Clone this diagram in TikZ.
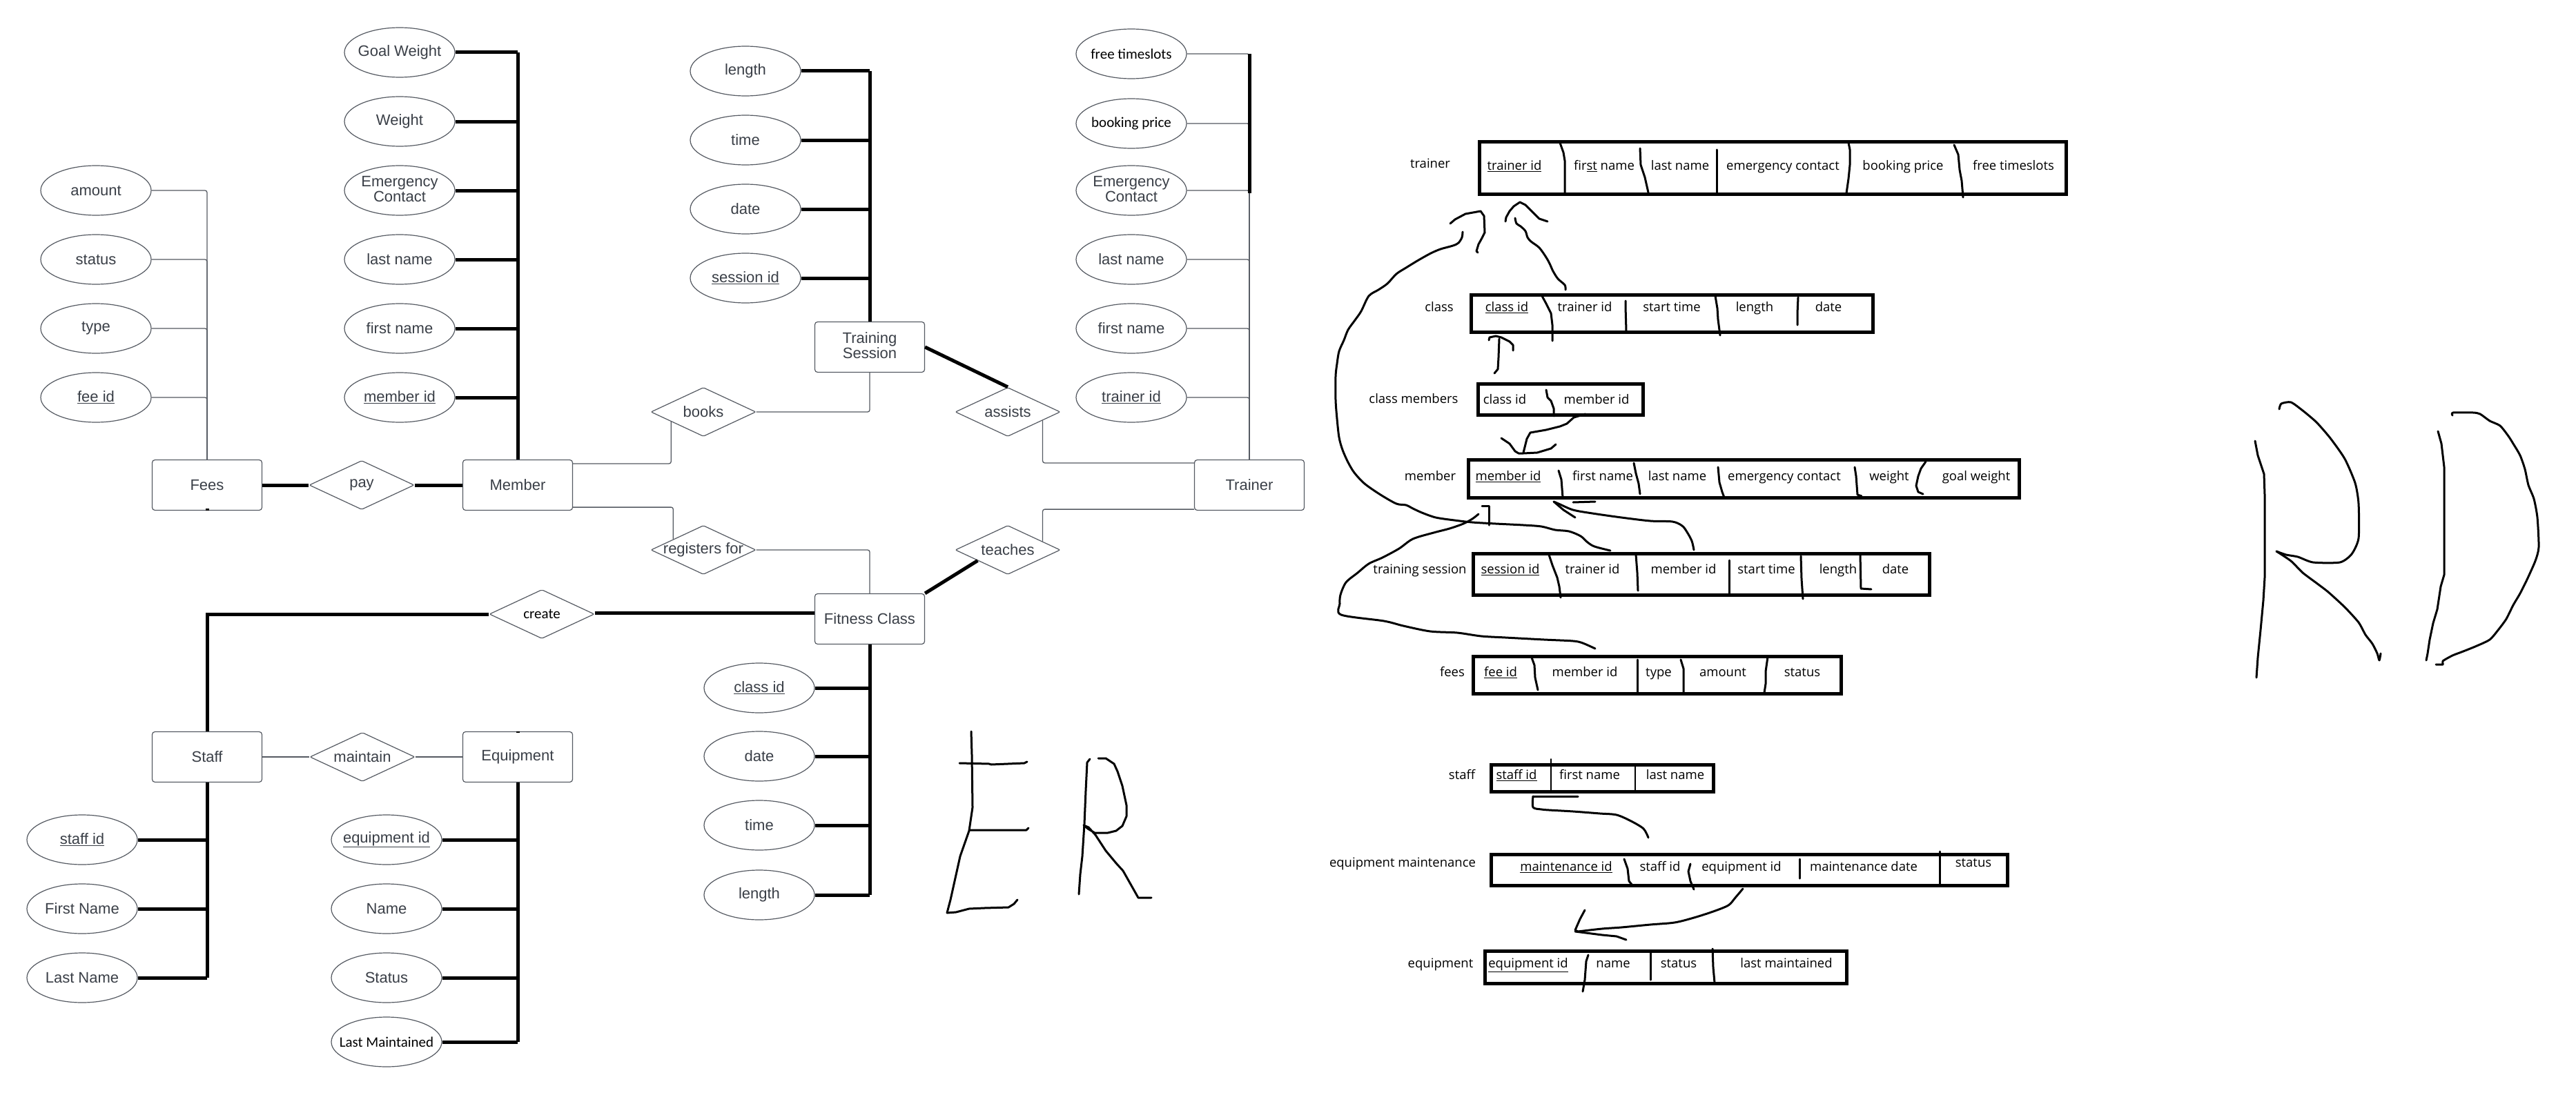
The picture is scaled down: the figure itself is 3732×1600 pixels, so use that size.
\documentclass[tikz,border=0pt]{standalone}
\usepackage{fontspec}
\setmainfont{Liberation Sans}
\newfontfamily\rdfam{Open Sans}
\newfontfamily\calfam{Carlito}
\usetikzlibrary{shapes.geometric,calc}
\definecolor{ergray}{RGB}{85,90,98}
\definecolor{ertext}{RGB}{58,63,71}
\newcommand\zb[1]{\makebox[0pt][c]{#1}}
\newcommand\twol[2]{\begin{tabular}{@{}c@{}}#1\\[-3pt]#2\end{tabular}}
\begin{document}
\begin{tikzpicture}[x=1pt,y=-1pt,
 erline/.style={draw=ergray,line width=1.3pt,rounded corners=3pt},
 erthick/.style={draw=black,line width=5pt},
 attr/.style={ellipse,draw=ergray,line width=1.2pt,minimum width=160pt,minimum height=72pt,inner sep=0pt,font=\fontsize{22}{25}\selectfont,text=ertext},
 ent/.style={rectangle,rounded corners=4pt,draw=ergray,line width=1.2pt,minimum width=159pt,minimum height=73pt,inner sep=0pt,font=\fontsize{22}{25}\selectfont,text=ertext},
 rel/.style={diamond,aspect=2.1,rounded corners=2pt,draw=ergray,line width=1.2pt,minimum width=152pt,minimum height=71pt,inner sep=0pt,font=\fontsize{22}{25}\selectfont,text=ertext},
 cal/.style={font=\calfam\fontsize{21}{25}\selectfont,text=black},
 tbl/.style={rectangle,draw=black,line width=5pt,inner sep=0pt},
 cell/.style={font=\rdfam\fontsize{18.5}{22}\selectfont,anchor=mid,inner sep=0pt,text=black},
 hand/.style={draw=black,line width=3pt,line cap=round,line join=round},
 sepl/.style={draw=black,line width=3pt,line cap=round,line join=round},
]
\fill[white] (0,0) rectangle (3732,1600);
\useasboundingbox (0,0) rectangle (3732,1600);

% ---------------- ER entities ----------------
\node[ent] (fees) at (300,703) {Fees};
\node[ent] (member) at (750,703) {Member};
\node[ent] (ts) at (1260,503) {\twol{Training}{Session}};
\node[ent] (trainer) at (1810,703) {Trainer};
\node[ent] (fc) at (1260,897) {Fitness Class};
\node[ent] (staff) at (300,1097) {Staff};
\node[ent] (equip) at (750,1097) {Equipment};

% relationships
\node[rel] (pay) at (524,703) {\zb{pay}};
\node[rel] (books) at (1019,597) {\zb{books}};
\node[rel] (reg) at (1019,797) {\zb{registers for}};
\node[rel] (assists) at (1460,597) {\zb{assists}};
\node[rel] (teaches) at (1460,797) {\zb{teaches}};
\node[rel,cal] (create) at (785,890) {\zb{create}};
\node[rel] (maintain) at (525,1097) {\zb{maintain}};

% member attributes
\node[attr] (gw) at (579,76) {\zb{Goal Weight}};
\node[attr] (wt) at (579,176) {\zb{Weight}};
\node[attr] (mec) at (579,276) {\zb{\twol{Emergency}{Contact}}};
\node[attr] (mln) at (579,376) {\zb{last name}};
\node[attr] (mfn) at (579,476) {\zb{first name}};
\node[attr] (mid) at (579,576) {\zb{\underline{member id}}};
% fees attributes
\node[attr] (famt) at (139,276) {\zb{amount}};
\node[attr] (fst) at (139,376) {\zb{status}};
\node[attr] (fty) at (139,476) {\zb{type}};
\node[attr] (fid) at (139,576) {\zb{\underline{fee id}}};
% training session attributes
\node[attr] (tlen) at (1080,103) {\zb{length}};
\node[attr] (ttime) at (1080,203) {\zb{time}};
\node[attr] (tdate) at (1080,303) {\zb{date}};
\node[attr] (tsid) at (1080,403) {\zb{\underline{session id}}};
% trainer attributes
\node[attr,cal] (tfree) at (1639,78) {\zb{free timeslots}};
\node[attr,cal] (tbook) at (1639,179) {\zb{booking price}};
\node[attr] (tec) at (1639,276) {\zb{\twol{Emergency}{Contact}}};
\node[attr] (tln) at (1639,376) {\zb{last name}};
\node[attr] (tfn) at (1639,476) {\zb{first name}};
\node[attr] (tid) at (1639,576) {\zb{\underline{trainer id}}};
% fitness class attributes
\node[attr] (cid) at (1100,997) {\zb{\underline{class id}}};
\node[attr] (cdate) at (1100,1096) {\zb{date}};
\node[attr] (ctime) at (1100,1196) {\zb{time}};
\node[attr] (clen) at (1100,1297) {\zb{length}};
% staff attributes
\node[attr] (sid) at (119,1217) {\zb{\underline{staff id}}};
\node[attr] (sfn) at (119,1317) {\zb{First Name}};
\node[attr] (sln) at (119,1417) {\zb{Last Name}};
% equipment attributes
\node[attr] (eid) at (560,1217) {\zb{\underline{equipment id}}};
\node[attr] (ename) at (560,1317) {\zb{Name}};
\node[attr] (est) at (560,1417) {\zb{Status}};
\node[attr,cal] (elm) at (560,1510) {\zb{Last Maintained}};

% ---------------- ER connectors ----------------
\draw[erthick] (member.north) -- (member.north |- gw.east);
\foreach \a in {gw,wt,mec,mln,mfn,mid} \draw[erthick] (\a.east) -- (\a.east -| member.north);
\foreach \a in {famt,fst,fty,fid} \draw[erline] (\a.east) -| (fees.north);
\draw[erthick] (ts.north) -- (ts.north |- tlen.east);
\foreach \a in {tlen,ttime,tdate,tsid} \draw[erthick] (\a.east) -- (\a.east -| ts.north);
\foreach \a in {tfree,tbook,tec,tln,tfn,tid} \draw[erline] (\a.east) -| (trainer.north);
\draw[erthick] (trainer.north |- tfree.east) -- ($(trainer.north |- tec.east)+(0,4)$);
\draw[erthick] (fc.south) -- (fc.south |- clen.east);
\foreach \a in {cid,cdate,ctime,clen} \draw[erthick] (\a.east) -- (\a.east -| fc.south);
\draw[erthick] (staff.south) -- (staff.south |- sln.east);
\foreach \a in {sid,sfn,sln} \draw[erthick] (\a.east) -- (\a.east -| staff.south);
\draw[erthick] (equip.south) -- (equip.south |- elm.east);
\foreach \a in {eid,ename,est,elm} \draw[erthick] (\a.east) -- (\a.east -| equip.south);

\draw[erthick] (fees.east) -- (pay.west);
\draw[erthick] (pay.east) -- (member.west);
\draw[erthick] (fees.south) -- ++(0,-3);
\draw[erthick] (equip.north) -- ++(0,2);
\draw[erline] ($(member.north east)+(0,6)$) -| ($(books.west)!0.39!(books.south)$);
\draw[erline] (books.east) -| (ts.south);
\draw[erline] ($(member.south east)+(0,-5)$) -| ($(reg.west)!0.43!(reg.north)$);
\draw[erline] (reg.east) -| (fc.north);
\draw[erthick] (ts.east) -- (assists.north);
\draw[erline] ($(assists.south)!0.66!(assists.east)$) |- ($(trainer.north west)+(0,5)$);
\draw[erline] ($(teaches.north)!0.66!(teaches.east)$) |- ($(trainer.south west)+(0,-2)$);
\draw[erthick] (fc.north east) -- ($(teaches.west)!0.43!(teaches.south)$);
\draw[erthick] ($(create.east)+(0,-2)$) -- ($(create.east -| fc.west)+(0,-2)$);
\draw[erthick] (create.west) -| (staff.north);
\draw[erline] (staff.east) -- (maintain.west);
\draw[erline] (maintain.east) -- (equip.west);

% hand-written ER
\draw[hand] (1407,1060) -- (1408,1094) -- (1409,1170) -- (1404,1204) -- (1391,1241) -- (1383,1277) -- (1377,1304) -- (1372,1323) -- (1385,1322) -- (1404,1317) -- (1426,1316) -- (1461,1315) -- (1469,1310) -- (1474,1304);
\draw[hand] (1390,1106) -- (1433,1107) -- (1436,1108) -- (1484,1106) -- (1488,1104);
\draw[hand] (1404,1203) -- (1487,1203) -- (1490,1200);
\draw[hand] (1563,1296) -- (1565,1267) -- (1568,1241) -- (1571,1194) -- (1573,1146) -- (1575,1105) -- (1579,1100);
\draw[hand] (1591,1099) -- (1602,1099) -- (1614,1107) -- (1619,1118) -- (1626,1139) -- (1632,1167) -- (1632,1183) -- (1626,1197) -- (1617,1204) -- (1605,1207) -- (1586,1207) -- (1576,1201) -- (1570,1196) -- (1577,1199) -- (1587,1210) -- (1602,1233) -- (1617,1251) -- (1627,1262) -- (1640,1285) -- (1649,1301) -- (1668,1301);

% hand-written RD
\draw[hand] (3267,639) -- (3271,660) -- (3280,687) -- (3281,717) -- (3281,837) -- (3279,870) -- (3275,913) -- (3271,953) -- (3269,982);
\draw[hand] plot[smooth,tension=0.4] coordinates {(3302,593) (3305,585) (3319,583) (3336,595) (3356,612) (3376,635) (3397,665) (3412,700) (3417,730) (3417,780) (3407,803) (3390,815) (3351,815) (3329,807) (3312,804) (3298,799)};
\draw[hand] plot[smooth,tension=0.4] coordinates {(3298,799) (3319,813) (3336,830) (3356,845) (3373,858) (3397,880) (3417,902) (3427,920) (3437,933) (3444,947) (3447,957) (3449,947)};
\draw[hand] (3532,625) -- (3537,643) -- (3541,677) -- (3541,833) -- (3536,850) -- (3531,883) -- (3525,903) -- (3520,927) -- (3517,947) -- (3515,957);
\draw[hand] plot[smooth,tension=0.4] coordinates {(3553,602) (3554,598) (3583,598) (3593,600) (3607,610) (3622,617) (3634,632) (3641,643) (3651,660) (3658,680) (3663,703) (3671,723) (3676,750) (3678,793) (3673,813) (3661,840) (3651,860) (3641,877) (3631,897) (3620,912) (3607,927) (3586,937) (3566,945) (3553,950) (3539,958) (3539,963) (3529,963)};

% ---------------- RD tables ----------------
\node[tbl,minimum width=850pt,minimum height=76pt] (Rtrainer) at (2568.5,243.5) {};
\node[tbl,minimum width=582pt,minimum height=54pt] (Rclass) at (2422.5,454.5) {};
\node[tbl,minimum width=239pt,minimum height=45pt] (Rcm) at (2261,579) {};
\node[tbl,minimum width=798pt,minimum height=55pt] (Rmember) at (2526.5,694) {};
\node[tbl,minimum width=661pt,minimum height=60pt] (Rts) at (2465,832.5) {};
\node[tbl,minimum width=533pt,minimum height=54pt] (Rfees) at (2401,978.5) {};
\node[tbl,minimum width=322pt,minimum height=39pt] (Rstaff) at (2321.5,1128) {};
\node[tbl,minimum width=748pt,minimum height=45pt] (Rem) at (2534.5,1261) {};
\node[tbl,minimum width=524pt,minimum height=47pt] (Requip) at (2413.5,1402) {};

% labels
\node[cell] (Ltrainer) at (2072,241) {trainer};
\node[cell] (Lclass) at (2085,449) {class};
\node[cell] (Lcm) at (2048,582) {class members};
\node[cell] (Lmember) at (2072,694) {member};
\node[cell] (Lts) at (2057,829) {training session};
\node[cell] (Lfees) at (2104,978) {fees};
\node[cell] (Lstaff) at (2118,1127) {staff};
\node[cell] (Lem) at (2032,1254) {equipment maintenance};
\node[cell] (Lequip) at (2087,1400) {equipment};

% cells
\foreach \x/\t [count=\i] in {2194/{\underline{trainer id}},2324/{fir\underline{st} name},2434/{last name},2583/{emergency contact},2757/{booking price},2917/{free timeslots}}
  \node[cell] (ctr\i) at (\x,244) {\t};
\foreach \x/\t [count=\i] in {2183/{\underline{class id}},2296/{trainer id},2422/{start time},2542/{length},2649/{date}}
  \node[cell] (ccl\i) at (\x,449) {\t};
\foreach \x/\t [count=\i] in {2180/{class id},2313/{member id}}
  \node[cell] (ccm\i) at (\x,583) {\t};
\foreach \x/\t [count=\i] in {2185/{\underline{member id}},2322/{first name},2430/{last name},2585/{emergency contact},2737/{weight},2863/{goal weight}}
  \node[cell] (cme\i) at (\x,694) {\t};
\foreach \x/\t [count=\i] in {2188/{\underline{session id}},2307/{trainer id},2439/{member id},2559/{start time},2663/{length},2746/{date}}
  \node[cell] (cts\i) at (\x,829) {\t};
\foreach \x/\t [count=\i] in {2174/{\underline{fee id}},2296/{member id},2403/{type},2496/{amount},2611/{status}}
  \node[cell] (cfe\i) at (\x,978) {\t};
\foreach \x/\t [count=\i] in {2197/{\underline{staff id}},2303/{first name},2427/{last name}}
  \node[cell] (cst\i) at (\x,1127) {\t};
\foreach \x/\t [count=\i] in {2269/{\underline{maintenance id}},2405/{staff id},2523/{equipment id},2700/{maintenance date}}
  \node[cell] (cem\i) at (\x,1260) {\t};
\node[cell] (cem5) at (2859,1254) {status};
\foreach \x/\t [count=\i] in {2214/{\underline{equipment id}},2337/{name},2432/{status},2588/{last maintained}}
  \node[cell] (ceq\i) at (\x,1400) {\t};

% separators
\draw[sepl] (2260,207) -- (2265,221) -- (2267,233) -- (2267,282);
\draw[sepl] (2376,215) -- (2377,239) -- (2383,257) -- (2388,279);
\draw[sepl] (2487,217) -- (2487,282);
\draw[sepl] (2678,207) -- (2680,217) -- (2680,239) -- (2678,259) -- (2675,280);
\draw[sepl] (2831,210) -- (2837,224) -- (2839,246) -- (2842,262) -- (2844,286);

\draw[sepl] (2234,429) -- (2240,440) -- (2247,454) -- (2249,471) -- (2249,494);
\draw[sepl] (2355,436) -- (2355,445) -- (2356,480);
\draw[sepl] (2485,429) -- (2488,447) -- (2489,463) -- (2492,486);
\draw[sepl] (2605,431) -- (2604,454) -- (2604,471);

\draw[sepl] (2240,565) -- (2242,576) -- (2247,581) -- (2251,592) -- (2251,603);

\draw[sepl] (2258,682) -- (2262,695) -- (2264,721);
\draw[sepl] (2367,671) -- (2370,686) -- (2374,701) -- (2376,716);
\draw[sepl] (2489,677) -- (2491,699) -- (2495,713) -- (2498,721);
\draw[sepl] (2687,677) -- (2689,690) -- (2691,717) -- (2697,719);
\draw[sepl] (2790,669) -- (2783,679) -- (2779,690) -- (2776,704) -- (2779,713) -- (2786,716);

\draw[sepl] (2244,804) -- (2249,819) -- (2256,837) -- (2259,850) -- (2261,866);
\draw[sepl] (2370,804) -- (2372,830) -- (2373,856);
\draw[sepl] (2505,812) -- (2505,862);
\draw[sepl] (2609,806) -- (2610,839) -- (2612,868);
\draw[sepl] (2695,804) -- (2696,853) -- (2711,854);

\draw[sepl] (2219,953) -- (2223,964) -- (2224,982) -- (2228,1000);
\draw[sepl] (2372,956) -- (2372,1005);
\draw[sepl] (2435,956) -- (2439,969) -- (2439,1004);
\draw[sepl] (2561,952) -- (2558,973) -- (2558,991) -- (2556,1004);

\draw[sepl,line width=2pt] (2247,1100) -- (2247,1145);
\draw[sepl,line width=2pt] (2369,1109) -- (2369,1147);

\draw[sepl] (2353,1245) -- (2358,1259) -- (2360,1277) -- (2365,1283);
\draw[sepl] (2449,1252) -- (2446,1263) -- (2449,1277) -- (2454,1289);
\draw[sepl] (2607,1245) -- (2607,1273);
\draw[sepl] (2810,1234) -- (2810,1283);

\draw[sepl] (2301,1384) -- (2298,1393) -- (2296,1420) -- (2293,1437);
\draw[sepl] (2391,1379) -- (2391,1420);
\draw[sepl] (2481,1375) -- (2482,1402) -- (2484,1424);

% ---------------- RD hand-drawn arrows ----------------
% training session trainer id -> trainer
\draw[hand] plot[smooth,tension=0.5] coordinates {(2333,798) (2310,792) (2300,786) (2290,777) (2273,770) (2253,768) (2233,763) (2207,761) (2167,759) (2133,757) (2107,754) (2080,750) (2060,743) (2047,737) (2037,732) (2023,730) (2000,717) (1977,701) (1962,685) (1953,670) (1945,652) (1940,634) (1937,607) (1935,580) (1935,545) (1937,527) (1940,509) (1947,493) (1953,478) (1963,464) (1972,451) (1983,429) (1997,420) (2010,411) (2023,397) (2037,388) (2055,377) (2073,367) (2087,361) (2105,356) (2113,352) (2118,344) (2119,336)};
\draw[hand] (2101,324) -- (2108,318) -- (2123,310) -- (2145,306) -- (2150,313) -- (2151,337) -- (2147,345) -- (2142,354) -- (2139,364) -- (2141,366);
% class trainer id -> trainer
\draw[hand] plot[smooth,tension=0.5] coordinates {(2268,420) (2267,413) (2257,404) (2250,393) (2245,382) (2240,373) (2230,359) (2218,350) (2213,344) (2210,335) (2203,328) (2197,324) (2195,316)};
\draw[hand] (2181,321) -- (2182,315) -- (2187,306) -- (2193,299) -- (2202,293) -- (2210,297) -- (2217,304) -- (2223,310) -- (2230,317) -- (2242,321);
% class members class id -> class
\draw[hand] (2165,541) -- (2170,535) -- (2171,518) -- (2172,491);
\draw[hand] (2157,493) -- (2158,489) -- (2167,487) -- (2175,489) -- (2187,495) -- (2192,500) -- (2192,508);
% class members member id -> member
\draw[hand] (2297,600) -- (2280,605) -- (2270,614) -- (2260,618) -- (2240,623) -- (2217,627) -- (2212,636) -- (2208,652) -- (2207,656);
\draw[hand] (2175,635) -- (2187,643) -- (2195,654) -- (2200,657) -- (2207,657) -- (2227,656) -- (2247,650) -- (2254,644);
% training session member id -> member
\draw[hand] plot[smooth,tension=0.5] coordinates {(2454,797) (2451,784) (2444,771) (2437,762) (2423,756) (2391,755) (2349,750) (2307,744) (2279,739) (2258,730) (2251,727)};
\draw[hand] (2251,727) -- (2265,739) -- (2282,750);
\draw[hand] (2279,728) -- (2311,727);
% fees member id -> member
\draw[hand] plot[smooth,tension=0.5] coordinates {(2311,940) (2293,932) (2279,929) (2237,927) (2181,924) (2146,922) (2111,917) (2072,915) (2033,907) (2005,900) (1943,891) (1941,875) (1942,862) (1950,844) (1967,830) (1983,817) (2003,808) (2027,795) (2047,781) (2077,772) (2100,766) (2120,759) (2133,752) (2142,745)};
\draw[hand] (2147,733) -- (2157,733) -- (2157,761);
% staff -> equipment maintenance
\draw[hand] (2221,1154) -- (2286,1154);
\draw[hand] plot[smooth,tension=0.5] coordinates {(2221,1154) (2221,1170) (2233,1173) (2244,1174) (2279,1176) (2318,1179) (2342,1181) (2363,1190) (2381,1201) (2388,1214)};
% equipment maintenance -> equipment
\draw[hand] plot[smooth,tension=0.5] coordinates {(2525,1288) (2514,1301) (2504,1312) (2482,1321) (2454,1330) (2426,1337) (2391,1340) (2349,1344) (2321,1346) (2286,1350)};
\draw[hand] (2286,1350) -- (2282,1348) -- (2289,1332) -- (2296,1319);
\draw[hand] (2282,1350) -- (2321,1355) -- (2342,1357) -- (2356,1362);
\end{tikzpicture}
\end{document}
